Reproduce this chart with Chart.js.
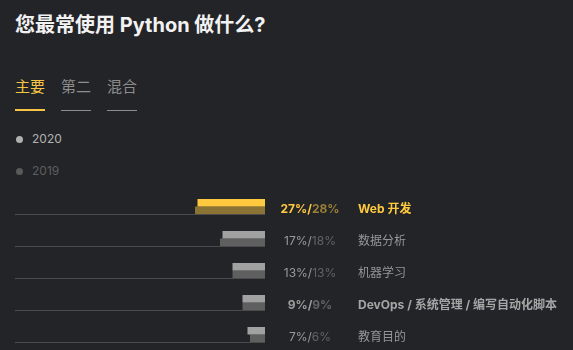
<!DOCTYPE html>
<html>
<head>
<meta charset="utf-8">
<script src="https://cdn.jsdelivr.net/npm/chart.js@4"></script>
<style>
  html, body { margin: 0; padding: 0; background: #232428; width: 573px; height: 350px; overflow: hidden; }
  body { position: relative; font-family: Inter, "Noto Sans CJK SC", sans-serif; }
  .abs { position: absolute; white-space: nowrap; }
  #title { left: 15px; top: 14px; font-size: 20px; line-height: 22px; font-weight: 700; color: #f2f2f2; }
  .tab { top: 79px; font-size: 15px; line-height: 16px; color: #8d8d8d; }
  .tab.active { color: #f6c445; }
  .ul { height: 1px; top: 110px; width: 30px; background: #8d8d8d; }
  .ul.active { height: 2px; top: 109px; background: #f6c445; }
  .dot { width: 7px; height: 7px; border-radius: 50%; }
  .leg { font-size: 12px; line-height: 14px; }
  #wrap { position: absolute; left: 0; top: 0; width: 573px; height: 370px; }
</style>
</head>
<body>
<div id="title" class="abs">您最常使用 Python 做什么?</div>
<div class="abs tab active" style="left:15px">主要</div>
<div class="abs tab" style="left:61px">第二</div>
<div class="abs tab" style="left:107px">混合</div>
<div class="abs ul active" style="left:15px"></div>
<div class="abs ul" style="left:61px"></div>
<div class="abs ul" style="left:107px"></div>
<div class="abs dot" style="left:16px; top:135.5px; background:#b0b0b0"></div>
<div class="abs leg" style="left:32px; top:132px; color:#b2b2b2">2020</div>
<div class="abs dot" style="left:16px; top:167.5px; background:#595959"></div>
<div class="abs leg" style="left:32px; top:164px; color:#5e5e5e">2019</div>
<div id="wrap"><canvas id="c" width="573" height="370"></canvas></div>
<script>
const categories = ['Web 开发', '数据分析', '机器学习', 'DevOps / 系统管理 / 编写自动化脚本', '教育目的'];
const values2020 = [27, 17, 13, 9, 7];
const values2019 = [28, 18, 13, 9, 6];
const seriesLabels = ['2020', '2019'];
const highlightIndex = 0;
const boldIndexes = [0, 3];

const col2020 = categories.map((_, i) => i === highlightIndex ? '#ffc93f' : '#a1a1a1');
const col2019 = categories.map((_, i) => i === highlightIndex ? '#8b7335' : '#5f5f5f');

const rowPlugin = {
  id: 'rows',
  beforeDatasetsDraw(chart) {
    const ctx = chart.ctx, y = chart.scales.y, a = chart.chartArea;
    ctx.save();
    ctx.fillStyle = '#4b4b4d';
    categories.forEach((_, i) => {
      const cy = y.getPixelForValue(i);
      ctx.fillRect(a.left, Math.round(cy + 7.5), a.right - a.left, 1);
    });
    ctx.restore();
  },
  afterDatasetsDraw(chart) {
    const ctx = chart.ctx, y = chart.scales.y;
    ctx.save();
    ctx.textBaseline = 'middle';
    categories.forEach((cat, i) => {
      const cy = y.getPixelForValue(i) + 2.5;
      const bold = boldIndexes.includes(i);
      const hl = i === highlightIndex;
      ctx.font = (bold ? '700 ' : '400 ') + '12px Inter, "Noto Sans CJK SC"';
      const p1 = values2020[i] + '%/';
      const p2 = values2019[i] + '%';
      const w1 = ctx.measureText(p1).width, w2 = ctx.measureText(p2).width;
      const x0 = 310 - (w1 + w2) / 2;
      ctx.textAlign = 'left';
      ctx.fillStyle = hl ? '#ffc93f' : (bold ? '#9c9c9c' : '#9a9a9a');
      ctx.fillText(p1, x0, cy);
      ctx.fillStyle = hl ? '#9a7f36' : '#636363';
      ctx.fillText(p2, x0 + w1, cy);
      ctx.fillStyle = hl ? '#ffc93f' : (bold ? '#a6a6a6' : '#969696');
      ctx.fillText(cat, 358, cy);
    });
    ctx.restore();
  }
};

new Chart(document.getElementById('c'), {
  type: 'bar',
  data: {
    labels: categories,
    datasets: [
      { label: seriesLabels[0], data: values2020, backgroundColor: col2020, categoryPercentage: 15 / 32, barPercentage: 1 },
      { label: seriesLabels[1], data: values2019, backgroundColor: col2019, categoryPercentage: 15 / 32, barPercentage: 1 }
    ]
  },
  options: {
    indexAxis: 'y',
    responsive: false,
    animation: false,
    events: [],
    layout: { padding: { left: 15, right: 308, top: 190.5, bottom: 19.5 } },
    scales: {
      x: { display: false, reverse: true, min: 0, max: 100 },
      y: { display: false, offset: true }
    },
    plugins: { legend: { display: false }, tooltip: { enabled: false } }
  },
  plugins: [rowPlugin]
});
</script>
</body>
</html>
